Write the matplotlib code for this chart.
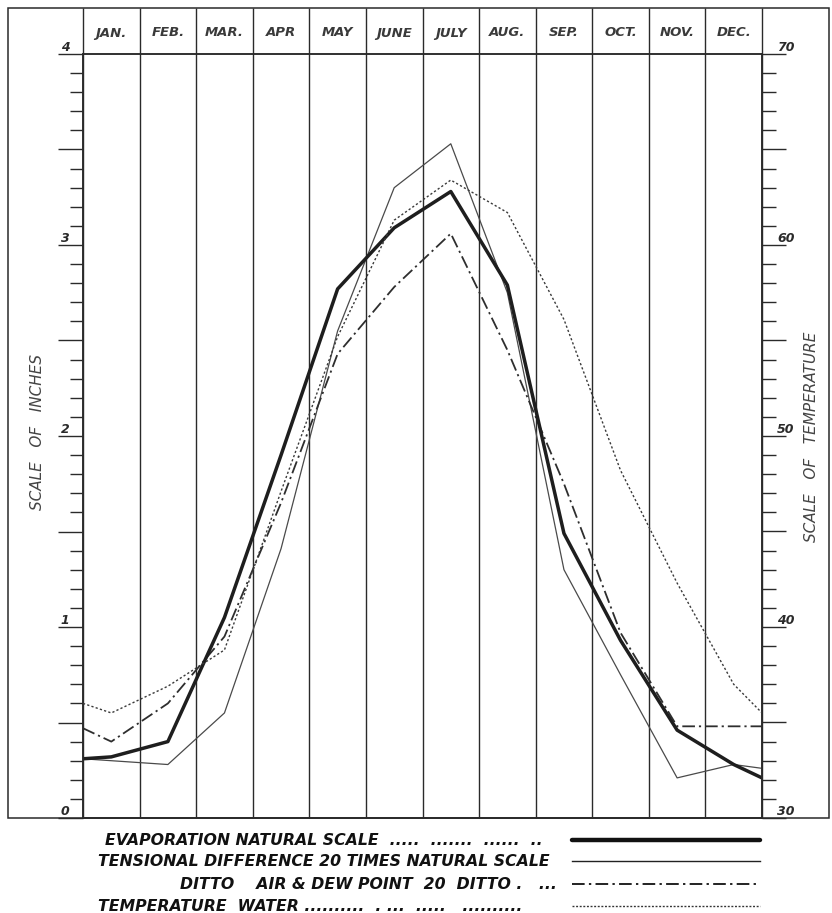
import numpy as np
import matplotlib
matplotlib.use("Agg")
import matplotlib.pyplot as plt
from matplotlib.patches import Rectangle
from matplotlib.lines import Line2D
from matplotlib.ticker import MultipleLocator

# months across the top; values read at each month (plus the curve ends at both edges)
MONTHS = ["JAN.", "FEB.", "MAR.", "APR", "MAY", "JUNE", "JULY", "AUG.", "SEP.", "OCT.", "NOV.", "DEC."]

# inches (left scale)
EVAPORATION = [0.31, 0.32, 0.40, 1.05, 1.90, 2.77, 3.09, 3.28, 2.79, 1.49, 0.93, 0.46, 0.28, 0.21]
TENSION_DIFF = [0.31, 0.30, 0.28, 0.55, 1.41, 2.55, 3.30, 3.53, 2.75, 1.30, 0.75, 0.21, 0.28, 0.26]
AIR_DEW_DIFF = [0.47, 0.40, 0.60, 0.95, 1.65, 2.43, 2.78, 3.06, 2.45, 1.75, 0.97, 0.48, 0.48, 0.48]
# degrees (right scale)
WATER_TEMP = [36.0, 35.5, 36.9, 38.8, 47.1, 55.2, 61.3, 63.4, 61.7, 56.1, 48.2, 42.3, 37.0, 35.5]

INCH_LABELS = [0, 1, 2, 3, 4]
TEMP_LABELS = [30, 40, 50, 60, 70]

LEGEND_ROWS = [
    ("EVAPORATION NATURAL SCALE", "  .....  .......  ......  ..", 105),
    ("TENSIONAL DIFFERENCE 20 TIMES NATURAL SCALE", "", 98),
    ("DITTO    AIR & DEW POINT  20  DITTO .", "   ...", 180),
    ("TEMPERATURE  WATER", " ..........  . ...  .....   ..........", 98),
]

W, H = 832, 913
INK = "#2a2a2a"
FONT = dict(family="DejaVu Sans", style="italic", weight="bold", color=INK)

fig = plt.figure(figsize=(W / 100, H / 100), dpi=100)
fig.patch.set_facecolor("white")

# plot box in pixel terms
L, R, T, B = 83, 762, 54, 818
ax = fig.add_axes([L / W, 1 - B / H, (R - L) / W, (B - T) / H])
ax2 = ax.twinx()

x = np.r_[0, np.arange(12) + 0.5, 12]

ax.set_xlim(0, 12)
ax.set_ylim(0, 4)
ax2.set_ylim(30, 70)

for a in (ax, ax2):
    for s in a.spines.values():
        s.set_color(INK)
        s.set_linewidth(1.1)
ax.set_xticks([])

ax.yaxis.set_major_locator(MultipleLocator(0.5))
ax.yaxis.set_minor_locator(MultipleLocator(0.1))
ax.tick_params(axis="y", which="major", length=18, width=1.0, color=INK, labelleft=False)
ax.tick_params(axis="y", which="minor", length=9.5, width=1.0, color=INK)
ax2.yaxis.set_major_locator(MultipleLocator(5))
ax2.yaxis.set_minor_locator(MultipleLocator(1))
ax2.tick_params(axis="y", which="major", length=17, width=1.0, color=INK, labelright=False)
ax2.tick_params(axis="y", which="minor", length=10, width=1.0, color=INK)

# month columns run up through the header row
top_frac = 1 + (T - 8) / (B - T)
ax.vlines(np.arange(0, 13), 0, top_frac, transform=ax.get_xaxis_transform(),
          colors=INK, linewidth=1.0, clip_on=False, zorder=1)
for i, m in enumerate(MONTHS):
    ax.text(i + 0.5, 1 + 21 / (B - T), m, transform=ax.get_xaxis_transform(),
            ha="center", va="center", fontsize=9.5, family="DejaVu Sans", style="italic",
            weight="bold", color="#3a3a3a")

# scale labels sit just above their tick lines
for v in INCH_LABELS:
    ax.text(-0.02, v, str(v), transform=ax.get_yaxis_transform(), ha="right", va="bottom",
            fontsize=9, **FONT)
for v in TEMP_LABELS:
    ax2.text(1.022, v, str(v), transform=ax2.get_yaxis_transform(), ha="left", va="bottom",
             fontsize=9, **FONT)

ax.plot(x, EVAPORATION, color="#1e1e1e", linewidth=2.5, solid_joinstyle="round", zorder=5)
ax.plot(x, TENSION_DIFF, color="#4a4a4a", linewidth=0.9, zorder=4)
ax.plot(x, AIR_DEW_DIFF, color="#2e2e2e", linewidth=1.3, dashes=(7, 2.2, 1.2, 2.2), zorder=4)
ax2.plot(x, WATER_TEMP, color="#3a3a3a", linewidth=1.0, dashes=(1.6, 1.6), zorder=4)

# outer border of the sheet
fig.add_artist(Rectangle((8 / W, 1 - B / H), (829 - 8) / W, (B - 8) / H,
                         transform=fig.transFigure, fill=False, edgecolor=INK, linewidth=1.1))

fig.text(38 / W, 1 - 432 / H, "SCALE   OF   INCHES", rotation=90, ha="center", va="center",
         fontsize=11, family="DejaVu Sans", style="italic", color="#444")
fig.text(812 / W, 1 - 437 / H, "SCALE   OF   TEMPERATURE", rotation=90, ha="center", va="center",
         fontsize=11, family="DejaVu Sans", style="italic", color="#444")

# key below the chart
row_y = [840, 861, 884, 906]
samples = [
    dict(color="#111", linewidth=3.2, solid_capstyle="round"),
    dict(color="#222", linewidth=1.0),
    dict(color="#222", linewidth=1.4, dashes=(6.5, 2.2, 1.2, 2.2)),
    dict(color="#333", linewidth=1.0, dashes=(1.4, 1.2)),
]
for (label, leader, x0), yy, st in zip(LEGEND_ROWS, row_y, samples):
    fig.text(x0 / W, 1 - yy / H, label + leader, ha="left", va="center", fontsize=11.3,
             family="DejaVu Sans", style="italic", weight="bold", color="#111")
    fig.add_artist(Line2D([572 / W, 760 / W], [1 - yy / H, 1 - yy / H],
                          transform=fig.transFigure, **st))

fig.savefig("out.png", dpi=100, facecolor="white")
